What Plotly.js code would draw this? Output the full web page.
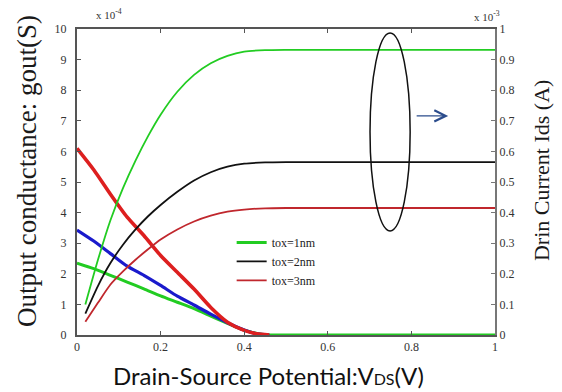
<!DOCTYPE html>
<html>
<head>
<meta charset="utf-8">
<script src="https://cdn.plot.ly/plotly-3.0.1.min.js"></script>
<style>html,body{margin:0;padding:0;background:#fff;}#chart{width:562px;height:392px;}</style>
</head>
<body>
<div id="chart"></div>
<script>
// Drain current (right axis, x 1e-3 A)
const xRise = [0.02, 0.05, 0.08, 0.11, 0.14, 0.17, 0.2, 0.24, 0.28, 0.32, 0.36, 0.4, 0.45, 0.5, 0.6, 0.7, 0.8, 0.9, 1.0];
const idsGreen = [0.10, 0.245, 0.375, 0.48, 0.57, 0.65, 0.72, 0.795, 0.85, 0.888, 0.912, 0.926, 0.931, 0.932, 0.932, 0.932, 0.932, 0.932, 0.932];
const idsBlack = [0.07, 0.16, 0.235, 0.295, 0.345, 0.388, 0.425, 0.468, 0.505, 0.532, 0.55, 0.56, 0.564, 0.565, 0.565, 0.565, 0.565, 0.565, 0.565];
const idsRed = [0.043, 0.105, 0.165, 0.208, 0.246, 0.28, 0.312, 0.345, 0.371, 0.39, 0.403, 0.41, 0.414, 0.415, 0.415, 0.415, 0.415, 0.415, 0.415];

// Output conductance (left axis, x 1e-4 S)
const xDescGreen = [0, 0.04, 0.08, 0.12, 0.16, 0.2, 0.24, 0.28, 0.32, 0.36, 0.4, 0.43, 0.46, 0.5, 0.6, 0.7, 0.8, 0.9, 1.0];
const gGreen = [2.35, 2.17, 1.95, 1.73, 1.51, 1.28, 1.07, 0.86, 0.62, 0.38, 0.16, 0.05, 0.0, 0, 0, 0, 0, 0, 0];
const xDescBlue = [0, 0.04, 0.08, 0.12, 0.16, 0.2, 0.24, 0.28, 0.32, 0.36, 0.4, 0.43, 0.46];
const gBlue = [3.43, 3.07, 2.66, 2.25, 1.95, 1.62, 1.27, 0.98, 0.68, 0.40, 0.16, 0.04, 0.0];
const xDescRed = [0, 0.04, 0.08, 0.12, 0.16, 0.2, 0.24, 0.28, 0.32, 0.36, 0.4, 0.43, 0.46];
const gRed = [6.1, 5.4, 4.6, 3.85, 3.25, 2.6, 2.05, 1.5, 0.9, 0.42, 0.15, 0.04, 0.0];

const legendNames = ["tox=1nm", "tox=2nm", "tox=3nm"];
const xTicks = [0, 0.2, 0.4, 0.6, 0.8, 1];
const yTicks = [0,1,2,3,4,5,6,7,8,9,10];
const y2Ticks = [0,0.1,0.2,0.3,0.4,0.5,0.6,0.7,0.8,0.9,1];

const serif = "Liberation Serif, Times New Roman, serif";
const sp = {shape: 'spline', smoothing: 0.6};

const traces = [
  {x: xDescGreen, y: gGreen, type: 'scatter', mode: 'lines', name: legendNames[0], line: Object.assign({color: '#22cc22', width: 3}, sp), yaxis: 'y'},
  {x: xRise, y: idsBlack, type: 'scatter', mode: 'lines', name: legendNames[1], line: Object.assign({color: '#111111', width: 1.8}, sp), yaxis: 'y2'},
  {x: xRise, y: idsRed, type: 'scatter', mode: 'lines', name: legendNames[2], line: Object.assign({color: '#c0272d', width: 1.8}, sp), yaxis: 'y2'},
  {x: xRise, y: idsGreen, type: 'scatter', mode: 'lines', showlegend: false, line: Object.assign({color: '#22cc22', width: 1.8}, sp), yaxis: 'y2'},
  {x: xDescBlue, y: gBlue, type: 'scatter', mode: 'lines', showlegend: false, line: Object.assign({color: '#1a1acc', width: 3.2}, sp), yaxis: 'y'},
  {x: xDescRed, y: gRed, type: 'scatter', mode: 'lines', showlegend: false, line: Object.assign({color: '#dd1f1f', width: 3.6}, sp), yaxis: 'y'}
];

const axisCommon = {
  showgrid: false, zeroline: false, showline: true, linecolor: '#555', linewidth: 2,
  ticks: 'inside', ticklen: 4, tickcolor: '#555', tickwidth: 1,
  tickfont: {family: serif, size: 12, color: '#333'}
};

const layout = {
  width: 562, height: 392,
  margin: {l: 77, r: 67, t: 29, b: 57},
  paper_bgcolor: '#fff', plot_bgcolor: '#fff',
  showlegend: true,
  legend: {x: 0.37, y: 0.35, xanchor: 'left', yanchor: 'top', bgcolor: 'rgba(0,0,0,0)',
           font: {family: serif, size: 12, color: '#222'}, itemwidth: 30, tracegroupgap: 0},
  xaxis: Object.assign({}, axisCommon, {range: [0, 1], tickvals: xTicks, ticktext: xTicks.map(String), mirror: 'ticks'}),
  yaxis: Object.assign({}, axisCommon, {range: [0, 10], tickvals: yTicks, ticktext: yTicks.map(String), ticklabelstandoff: 6}),
  yaxis2: Object.assign({}, axisCommon, {range: [0, 1], overlaying: 'y', side: 'right', tickvals: y2Ticks, ticktext: y2Ticks.map(String), linecolor: '#777', tickcolor: '#777'}),
  shapes: [
    {type: 'circle', xref: 'x', yref: 'y2', x0: 0.701, x1: 0.797, y0: 0.34, y1: 0.987, line: {color: '#111', width: 1.5}}
  ],
  annotations: [
    {x: 0.888, y: 0.716, xref: 'x', yref: 'y2', ax: 0.809, ay: 0.716, axref: 'x', ayref: 'y2', text: '', showarrow: true,
     arrowhead: 5, arrowsize: 1.6, arrowwidth: 1.4, arrowcolor: '#2b4c8c'},
    {xref: 'paper', yref: 'paper', x: -0.1196, y: 0.536, text: 'Output conductance: gout(S)', textangle: -90, showarrow: false,
     font: {family: serif, size: 27, color: '#1a1a1a'}, xanchor: 'center', yanchor: 'middle'},
    {xref: 'paper', yref: 'paper', x: 1.110, y: 0.539, text: 'Drin Current Ids (A)', textangle: -90, showarrow: false,
     font: {family: serif, size: 22, color: '#1a1a1a'}, xanchor: 'center', yanchor: 'middle'},
    {xref: 'paper', yref: 'paper', x: 0.457, y: -0.131, text: 'Drain-Source Potential:V<span style="font-size:16px">DS</span>(V)', showarrow: false,
     font: {family: 'Lato, Liberation Sans, sans-serif', size: 24, color: '#111'}, xanchor: 'center', yanchor: 'middle'},
    {xref: 'paper', yref: 'paper', x: 0.041, y: 1.049, text: 'x 10<sup>-4</sup>', showarrow: false,
     font: {family: serif, size: 11, color: '#333'}, xanchor: 'left', yanchor: 'middle'},
    {xref: 'paper', yref: 'paper', x: 0.945, y: 1.042, text: 'x 10<sup>-3</sup>', showarrow: false,
     font: {family: serif, size: 11, color: '#333'}, xanchor: 'left', yanchor: 'middle'}
  ]
};

Plotly.newPlot('chart', traces, layout, {displayModeBar: false, staticPlot: true});
</script>
</body>
</html>
